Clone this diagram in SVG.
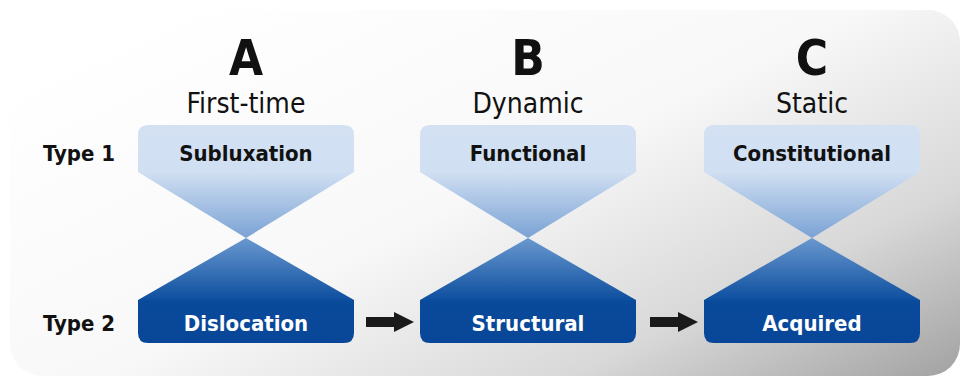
<svg xmlns="http://www.w3.org/2000/svg" width="963" height="381" viewBox="0 0 963 381">
<defs>
<linearGradient id="bg" x1="0" y1="0.2" x2="1" y2="1">
<stop offset="0" stop-color="#ffffff"/>
<stop offset="0.45" stop-color="#f8f8f8"/>
<stop offset="0.75" stop-color="#d8d8d8"/>
<stop offset="1" stop-color="#a2a2a2"/>
</linearGradient>
<linearGradient id="top" x1="0" y1="0" x2="0" y2="1">
<stop offset="0" stop-color="#d3e1f3"/>
<stop offset="0.42" stop-color="#d0dff2"/>
<stop offset="1" stop-color="#7aa2d4"/>
</linearGradient>
<linearGradient id="bot" x1="0" y1="0" x2="0" y2="1">
<stop offset="0" stop-color="#6a98cf"/>
<stop offset="0.58" stop-color="#0f50a0"/>
<stop offset="0.6" stop-color="#0a4a9b"/>
<stop offset="1" stop-color="#084698"/>
</linearGradient>
<marker id="ah" viewBox="0 0 10 10" refX="0" refY="5" markerWidth="2" markerHeight="2.5" markerUnits="strokeWidth" orient="auto">
<path d="M0,0 L10,5 L0,10 Z" fill="#1a1a1a"/>
</marker>
</defs>
<style>
.big{font-family:"DejaVu Sans Condensed","DejaVu Sans",sans-serif;font-weight:bold;font-size:49px;fill:#111;text-anchor:middle}
.sub{font-family:"DejaVu Sans Condensed","DejaVu Sans",sans-serif;font-size:28px;fill:#111;text-anchor:middle}
.lbl{font-family:"DejaVu Sans Condensed","DejaVu Sans",sans-serif;font-weight:bold;font-size:22px;text-anchor:middle}
.dark{fill:#111}
.light{fill:#ffffff}
.row{font-family:"DejaVu Sans Condensed","DejaVu Sans",sans-serif;font-weight:bold;font-size:22px;fill:#111;text-anchor:start}
.conn{stroke:#1a1a1a;stroke-width:10;fill:none}
</style>
<rect x="10" y="10" width="950" height="366" rx="32" fill="url(#bg)"/>
<text class="row" x="43" y="161">Type 1</text>
<text class="row" x="43" y="331">Type 2</text>
<g id="nodeA">
<text class="big" x="246" y="75">A</text>
<text class="sub" x="246" y="113">First-time</text>
<path d="M138,135 Q138,125 148,125 H344 Q354,125 354,135 V172 L246,238 L138,172 Z" fill="url(#top)"/>
<path d="M246,238 L354,300 V333 Q354,343 344,343 H148 Q138,343 138,333 V300 Z" fill="url(#bot)"/>
<text class="lbl dark" x="246" y="161">Subluxation</text>
<text class="lbl light" x="246" y="331">Dislocation</text>
</g>
<g id="nodeB">
<text class="big" x="528" y="75">B</text>
<text class="sub" x="528" y="113">Dynamic</text>
<path d="M420,135 Q420,125 430,125 H626 Q636,125 636,135 V172 L528,238 L420,172 Z" fill="url(#top)"/>
<path d="M528,238 L636,300 V333 Q636,343 626,343 H430 Q420,343 420,333 V300 Z" fill="url(#bot)"/>
<text class="lbl dark" x="528" y="161">Functional</text>
<text class="lbl light" x="528" y="331">Structural</text>
</g>
<g id="nodeC">
<text class="big" x="812" y="75">C</text>
<text class="sub" x="812" y="113">Static</text>
<path d="M704,135 Q704,125 714,125 H910 Q920,125 920,135 V172 L812,238 L704,172 Z" fill="url(#top)"/>
<path d="M812,238 L920,300 V333 Q920,343 910,343 H714 Q704,343 704,333 V300 Z" fill="url(#bot)"/>
<text class="lbl dark" x="812" y="161">Constitutional</text>
<text class="lbl light" x="812" y="331">Acquired</text>
</g>
<g id="connectors">
<line class="conn" x1="366" y1="322" x2="394" y2="322" marker-end="url(#ah)"/>
<line class="conn" x1="650" y1="322" x2="678" y2="322" marker-end="url(#ah)"/>
</g>
</svg>
